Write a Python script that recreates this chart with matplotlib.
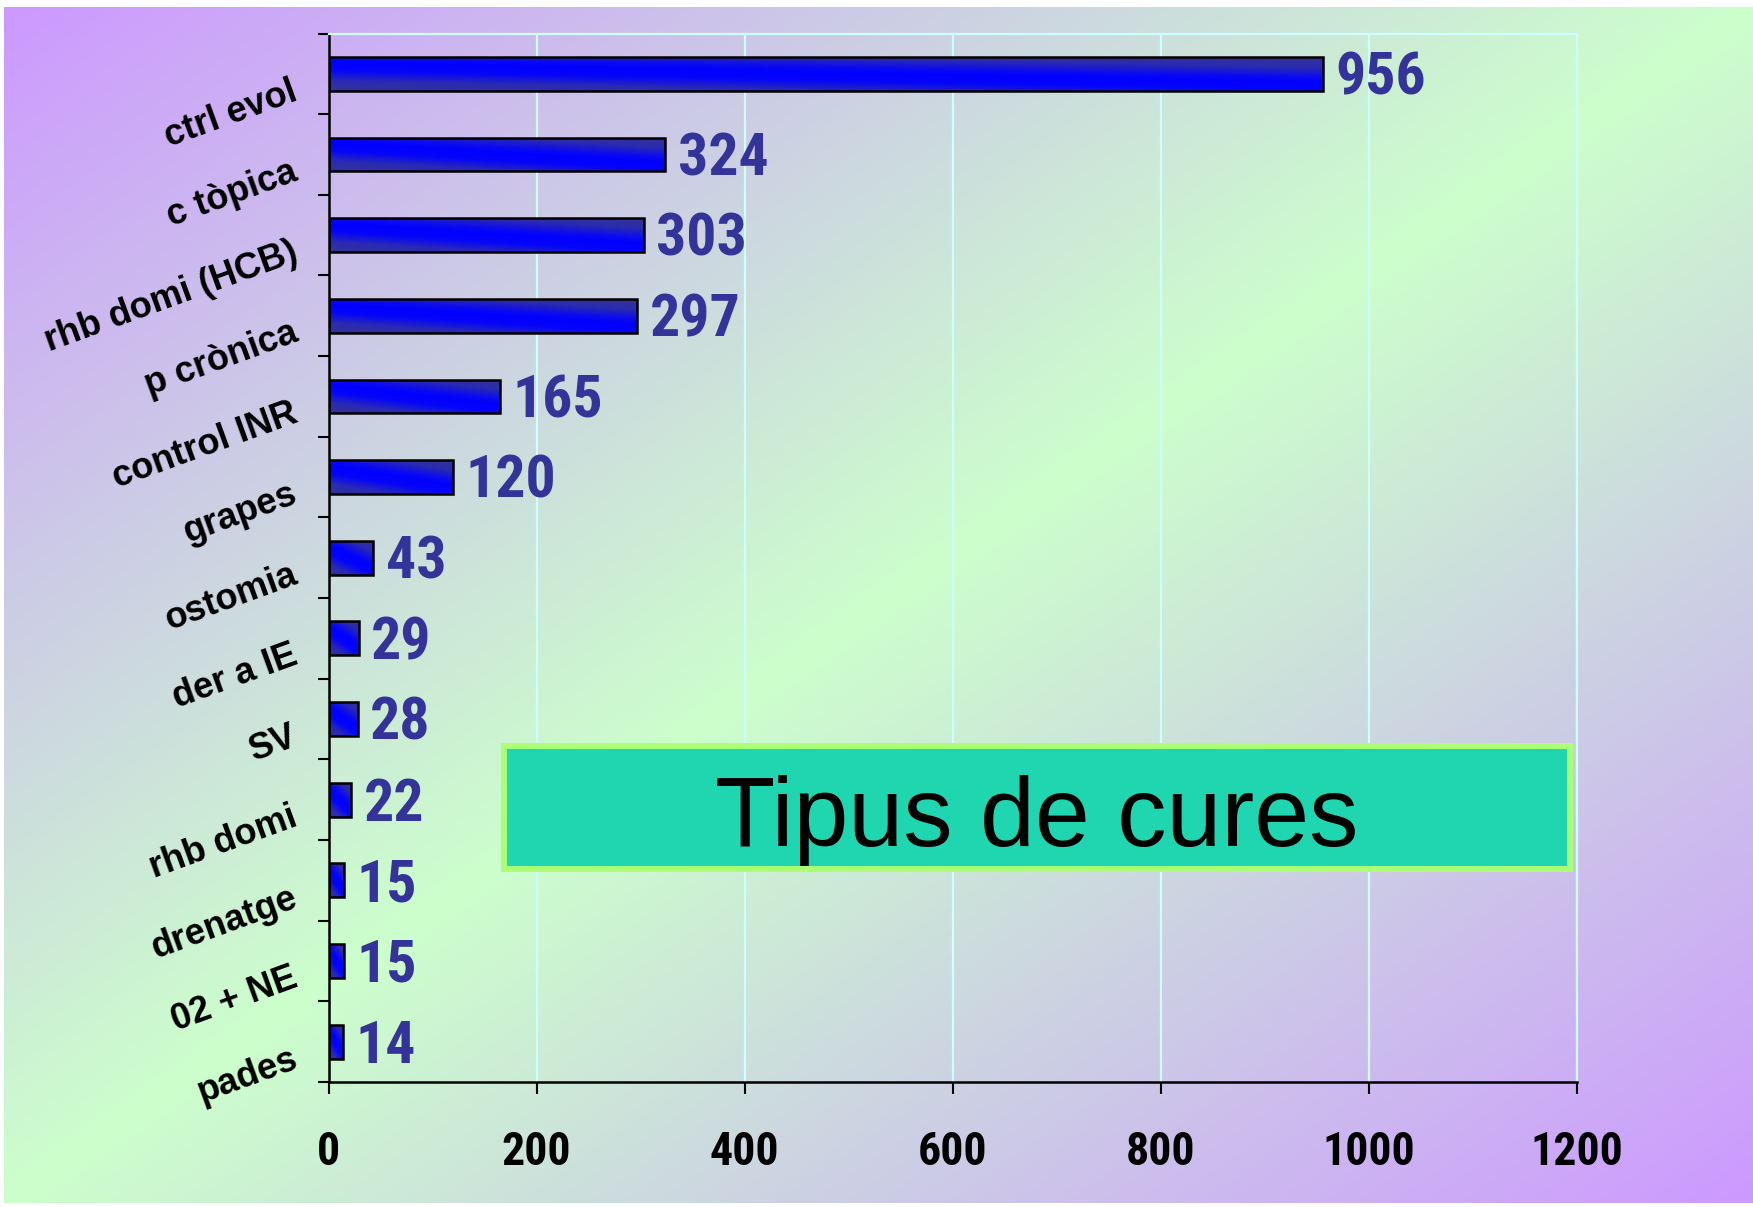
import numpy as np
import matplotlib
matplotlib.use('Agg')
import matplotlib.pyplot as plt
from matplotlib.colors import LinearSegmentedColormap, to_rgb
from matplotlib.patches import Rectangle
from matplotlib import font_manager as fm
import logging
logging.getLogger('matplotlib.font_manager').setLevel(logging.ERROR)

categories = ['ctrl evol', 'c tòpica', 'rhb domi (HCB)', 'p crònica', 'control INR',
              'grapes', 'ostomia', 'der a IE', 'SV', 'rhb domi', 'drenatge',
              '02 + NE', 'pades']
values = [956, 324, 303, 297, 165, 120, 43, 29, 28, 22, 15, 15, 14]
x_ticks = [0, 200, 400, 600, 800, 1000, 1200]
title = 'Tipus de cures'

W, H = 1753, 1207
fig = plt.figure(figsize=(W / 100, H / 100), dpi=100, facecolor='white')

available = {f.name for f in fm.fontManager.ttflist}
narrow_candidates = ['Liberation Sans Narrow', 'Arial Narrow', 'Roboto Condensed',
                     'Archivo Narrow', 'PT Sans Narrow', 'IBM Plex Sans Condensed',
                     'Open Sans Condensed']
narrow_font = next((n for n in narrow_candidates if n in available), 'Liberation Sans')
narrow = [narrow_font, 'DejaVu Sans']
regular = ['Liberation Sans', 'DejaVu Sans']

# background gradient
bg = fig.add_axes([4 / W, 4 / H, (W - 4) / W, (H - 11) / H], zorder=-10)
bg.set_axis_off()
nx, ny = 500, 350
u = np.linspace(0, 1, nx)[None, :]
v = np.linspace(0, 1, ny)[:, None]
t = (u + v) / 2
m = 1 - np.abs(2 * t - 1)
purple = np.array(to_rgb('#cc99ff'))
green = np.array(to_rgb('#ccffcc'))
img = purple[None, None, :] + (green - purple)[None, None, :] * m[:, :, None]
bg.imshow(img, extent=(0, 1, 0, 1), origin='upper', aspect='auto', interpolation='bilinear')
bg.set_xlim(0, 1)
bg.set_ylim(0, 1)

# main axes
left, right, top, bottom = 328.5, 1576.5, 33.5, 1082
ax = fig.add_axes([left / W, (H - bottom) / H, (right - left) / W, (bottom - top) / H])
ax.patch.set_alpha(0)

y = np.arange(len(categories))
bars = ax.barh(y, values, height=0.42, color='none', edgecolor='black',
               linewidth=1.8, zorder=3)
smin, smax = -0.3, 1.3
def nrm(s):
    return (s - smin) / (smax - smin)
cmap = LinearSegmentedColormap.from_list(
    'barg', [(nrm(-0.3), '#333399'), (nrm(0.0), '#2c2cae'), (nrm(0.3), '#0a0af2'),
             (nrm(0.45), '#0000ff'), (nrm(0.7), '#0505fa'), (nrm(1.0), '#2a2ab4'),
             (nrm(1.3), '#333399')])
gy = np.linspace(0, 1, 80)[:, None]
gx = np.linspace(0, 1, 80)[None, :]
grad = gy - 0.6 * (gx - 0.5)
for b in bars:
    x0, y0 = b.get_x(), b.get_y()
    w, h = b.get_width(), b.get_height()
    im = ax.imshow(grad, extent=(x0, x0 + w, y0, y0 + h), origin='lower',
                   aspect='auto', cmap=cmap, vmin=smin, vmax=smax, zorder=2.5,
                   interpolation='bilinear')
    im.set_clip_path(b)

for yi, val in zip(y, values):
    ax.annotate(str(val), xy=(val, yi), xytext=(9, -15), textcoords='offset points',
                ha='left', va='baseline', fontsize=43, fontweight='bold',
                color='#333399', family=narrow, zorder=5)

ax.set_xlim(0, 1200)
ax.set_ylim(12.5, -0.5)
ax.set_xticks(x_ticks)
ax.set_xticklabels([str(x) for x in x_ticks], fontsize=33, fontweight='bold',
                   family=narrow)
ax.tick_params(axis='x', length=8.6, width=1.5, direction='out', pad=26, colors='black')
ax.xaxis.grid(True, color='#ccffff', linewidth=1.6, zorder=1)
ax.set_axisbelow(True)

ax.set_yticks(y)
ax.set_yticklabels(categories, rotation=20, ha='right', va='top', fontsize=26,
                   fontweight='bold', family=regular, rotation_mode='default')
ax.tick_params(axis='y', which='major', length=0, pad=19)
ax.set_yticks(np.arange(-0.5, 13, 1), minor=True)
ax.tick_params(axis='y', which='minor', length=8, width=1.5, direction='out')

for s in ['left', 'bottom']:
    ax.spines[s].set_color('black')
    ax.spines[s].set_linewidth(1.8)
for s in ['top', 'right']:
    ax.spines[s].set_color('#ccffff')
    ax.spines[s].set_linewidth(1.6)

# title box
rect = Rectangle((504 / W, (H - 869) / H), (1570 - 504) / W, (869 - 746) / H,
                 transform=fig.transFigure, facecolor='#1fd6b0', edgecolor='#aaff77',
                 linewidth=4.3, zorder=10)
fig.add_artist(rect)
fig.text(1037 / W, (H - 846) / H, title, ha='center', va='baseline', fontsize=71,
         family=regular, color='black', zorder=11)

fig.savefig('out.png', dpi=100, facecolor='white')
